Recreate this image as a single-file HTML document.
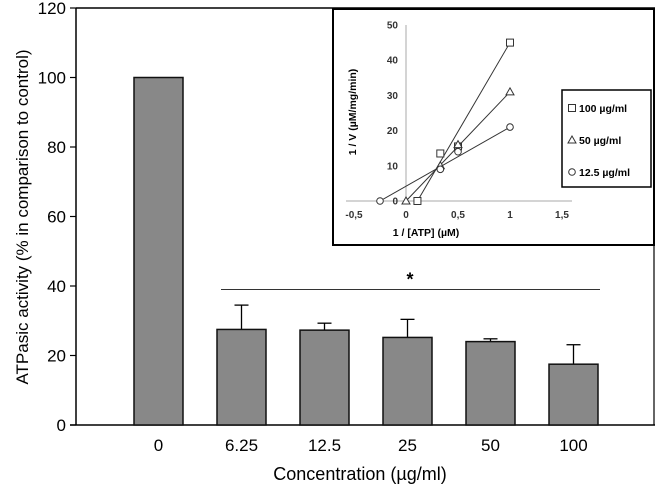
<!DOCTYPE html>
<html><head><meta charset="utf-8"><style>
body{margin:0;background:#fff}
svg{display:block;font-family:"Liberation Sans",Arial,sans-serif}
</style></head><body>
<svg width="657" height="495" viewBox="0 0 657 495">
<g id="main"></g>
<g id="inset"></g>
</svg>
<script>
const categories=["0","6.25","12.5","25","50","100"];
const values=[100,27.5,27.3,25.2,24,17.5];
const errors=[0,7,2,5.2,0.8,5.6];
const yTicks=[0,20,40,60,80,100,120];

const insetXTicks=["-0,5","0","0,5","1","1,5"];
const insetXTickVals=[-0.5,0,0.5,1,1.5];
const insetYTicks=[0,10,20,30,40,50];
const s100x=[0.11,0.33,0.5,1]; const s100y=[0,13.5,15.5,45];
const s50x=[0,0.33,0.5,1]; const s50y=[0,10,16,31];
const s12x=[-0.25,0.33,0.5,1]; const s12y=[0,9,14,21];
const seriesNames=["100 µg/ml","50 µg/ml","12.5 µg/ml"];

const NS="http://www.w3.org/2000/svg";
function mk(p,t,a,txt){const e=document.createElementNS(NS,t);for(const k in a)e.setAttribute(k,a[k]);if(txt!==undefined)e.textContent=txt;p.appendChild(e);return e;}
const main=document.getElementById('main');
const y=v=>425-v*3.475;
const x=i=>158.5+i*83;
let e=mk(main,'line',{x1:76,y1:8,x2:655,y2:8,stroke:'#000','stroke-width':1.5});

e=mk(main,'line',{x1:76,y1:8,x2:76,y2:425,stroke:'#000','stroke-width':1.5});

e=mk(main,'line',{x1:70,y1:425,x2:655,y2:425,stroke:'#000','stroke-width':1.5});

e=mk(main,'line',{x1:654,y1:8,x2:654,y2:425,stroke:'#000','stroke-width':1.2});

yTicks.forEach(t=>{
 e=mk(main,'line',{x1:70,y1:y(t),x2:76,y2:y(t),stroke:'#000','stroke-width':1.2});
 
 e=mk(main,'text',{x:66,y:y(t)+6,'text-anchor':'end','font-size':17},t);
 
});
categories.forEach((c,i)=>{
 const v=values[i],er=errors[i];
 if(er>0){
  e=mk(main,'line',{x1:x(i),y1:y(v),x2:x(i),y2:y(v+er),stroke:'#000','stroke-width':1.3});
  
  e=mk(main,'line',{x1:x(i)-7,y1:y(v+er),x2:x(i)+7,y2:y(v+er),stroke:'#000','stroke-width':1.3});
  
 }
 e=mk(main,'rect',{x:x(i)-24.5,y:y(v),width:49,height:425-y(v),fill:'#888',stroke:'#111','stroke-width':1.5});
 
 e=mk(main,'text',{x:x(i),y:451,'text-anchor':'middle','font-size':17},c);
 
});
e=mk(main,'line',{x1:221,y1:y(39),x2:600,y2:y(39),stroke:'#333','stroke-width':1});

e=mk(main,'text',{x:410,y:y(39)-4,'text-anchor':'middle','font-size':18,'font-weight':'bold'},'*');

e=mk(main,'text',{x:360,y:480,'text-anchor':'middle','font-size':18},'Concentration (µg/ml)');

e=mk(main,'text',{x:0,y:0,'text-anchor':'middle','font-size':17,transform:'translate(28,217) rotate(-90)'},'ATPasic activity (% in comparison to control)');


const ins=document.getElementById('inset');
e=mk(ins,'rect',{x:333,y:9,width:321,height:236,fill:'#fff',stroke:'#000','stroke-width':2});

const ix=v=>406+v*104, iy=v=>201-v*3.52;
e=mk(ins,'line',{x1:ix(-0.5)-8,y1:iy(0),x2:ix(1.5)+10,y2:iy(0),stroke:'#aaa','stroke-width':1});

e=mk(ins,'line',{x1:ix(0),y1:iy(0),x2:ix(0),y2:iy(50),stroke:'#aaa','stroke-width':1});

insetXTickVals.forEach((v,i)=>{
 e=mk(ins,'text',{x:ix(v),y:218,'text-anchor':'middle','font-size':10,'font-weight':'bold',fill:'#333'},insetXTicks[i]);
 
});
insetYTicks.forEach(t=>{
 e=mk(ins,'text',{x:398,y:iy(t)+3.5,'text-anchor':'end','font-size':10,'font-weight':'bold',fill:'#333'},t);
 
});
e=mk(ins,'text',{x:426,y:236,'text-anchor':'middle','font-size':10.5,'font-weight':'bold'},'1 / [ATP] (µM)');

e=mk(ins,'text',{x:0,y:0,'text-anchor':'middle','font-size':10.5,'font-weight':'bold',transform:'translate(356,112) rotate(-90)'},'1 / V (µM/mg/min)');

function marker(g,type,cx,cy){
 if(type==0) return mk(g,'rect',{x:cx-3.5,y:cy-3.5,width:7,height:7,fill:'#fff',stroke:'#333','stroke-width':1});
 if(type==1) return mk(g,'polygon',{points:`${cx},${cy-4} ${cx+4},${cy+3} ${cx-4},${cy+3}`,fill:'#fff',stroke:'#333','stroke-width':1});
 return mk(g,'circle',{cx:cx,cy:cy,r:3.3,fill:'#fff',stroke:'#333','stroke-width':1});
}
[[s100x,s100y],[s50x,s50y],[s12x,s12y]].forEach(([xs,ys],k)=>{
 const n=xs.length;
 e=mk(ins,'line',{x1:ix(xs[0]),y1:iy(ys[0]),x2:ix(xs[n-1]),y2:iy(ys[n-1]),stroke:'#333','stroke-width':1});
 
 xs.forEach((v,i)=>{
  e=marker(ins,k,ix(v),iy(ys[i]));
  
 });
});
e=mk(ins,'rect',{x:562,y:90,width:89,height:97,fill:'#fff',stroke:'#000','stroke-width':1.5});

seriesNames.forEach((nm,k)=>{
 const ly=108+k*32;
 e=marker(ins,k,572,ly);
 
 e=mk(ins,'text',{x:579,y:ly+4,'font-size':10.5,'font-weight':'bold'},nm);
 
});
</script>
</body></html>
